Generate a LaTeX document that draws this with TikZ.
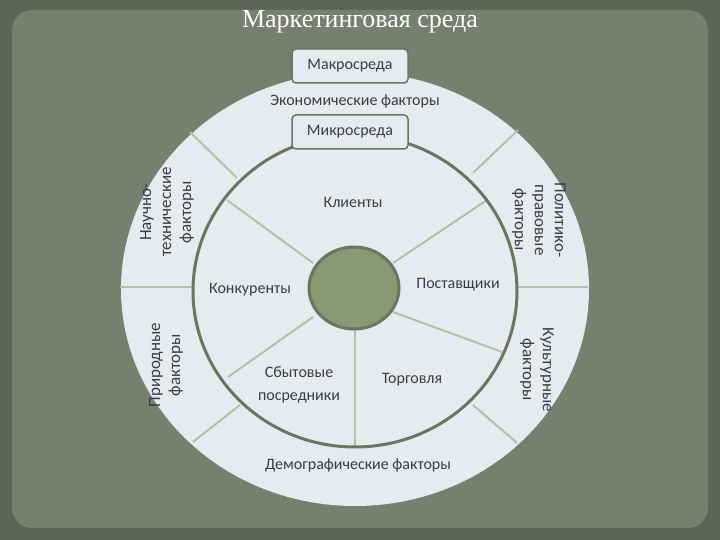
\documentclass[tikz,border=0pt]{standalone}
\usepackage{fontspec}
\setmainfont{Carlito}
\newfontfamily\titlefont{Liberation Serif}
\definecolor{bgout}{HTML}{5E6556}
\definecolor{bgin}{HTML}{787F6F}
\definecolor{disk}{HTML}{E7EAEF}
\definecolor{ring}{HTML}{6B7560}
\definecolor{divc}{HTML}{B8BFA6}
\definecolor{core}{HTML}{8A9874}
\definecolor{txt}{HTML}{3A3C4A}
\begin{document}
\begin{tikzpicture}[x=1pt,y=-1pt,
  lbl/.style={text=txt,font=\fontsize{16}{19}\selectfont,align=center},
  rlbl/.style={text=txt,font=\fontsize{17}{20}\selectfont,align=center},
  boxlbl/.style={lbl,fill=disk,draw=ring,line width=1.5pt,rounded corners=4pt,minimum width=116pt,minimum height=34pt},
  divl/.style={draw=divc,line width=2pt}]
\fill[bgout] (0,0) rectangle (720,540);
\fill[bgin,rounded corners=20pt] (12,10) rectangle (708,528);
\useasboundingbox (0,0) rectangle (720,540);
\node[text=white,font=\titlefont\fontsize{26}{30}\selectfont] (title) at (360,22) {Маркетинговая среда};
\fill[disk] (355,289) ellipse [x radius=234pt, y radius=217pt];
\draw[divl] (190,132) -- (237,178);
\draw[divl] (518,130) -- (473,173);
\draw[divl] (120,287) -- (194,287);
\draw[divl] (518,287) -- (588,287);
\draw[divl] (193,442) -- (240,405);
\draw[divl] (473,405) -- (517,443);
\draw[divl] (313,263) -- (227,200);
\draw[divl] (393,263) -- (487,200);
\draw[divl] (313,317) -- (228,377);
\draw[divl] (393,312) -- (502,352);
\draw[divl] (355,330) -- (355,448);
\draw[ring,line width=3pt] (355,291) ellipse [x radius=162pt, y radius=156pt];
\draw[ring,fill=core,line width=3pt] (354,288) ellipse [x radius=45pt, y radius=41pt];
\node[boxlbl] (macro) at (350,66) {Макросреда};
\node[boxlbl] (micro) at (350,132) {Микросреда};
\node[lbl] (econ) at (355,101) {Экономические факторы};
\node[lbl] (cli) at (353,202) {Клиенты};
\node[lbl] (kon) at (250,290) {Конкуренты};
\node[lbl] (post) at (458,285) {Поставщики};
\node[lbl,font=\fontsize{16}{23}\selectfont] (sbyt) at (299,385) {Сбытовые\\посредники};
\node[lbl] (torg) at (412,380) {Торговля};
\node[lbl] (demo) at (358,465) {Демографические факторы};
\node[rlbl,rotate=90] (nauch) at (167,212) {Научно-\\технические\\факторы};
\node[rlbl,rotate=-90] (polit) at (539,220) {Политико-\\правовые\\факторы};
\node[rlbl,rotate=90] (prir) at (166,365) {Природные\\факторы};
\node[rlbl,rotate=-90] (kult) at (537,370) {Культурные\\факторы};
\end{tikzpicture}
\end{document}
